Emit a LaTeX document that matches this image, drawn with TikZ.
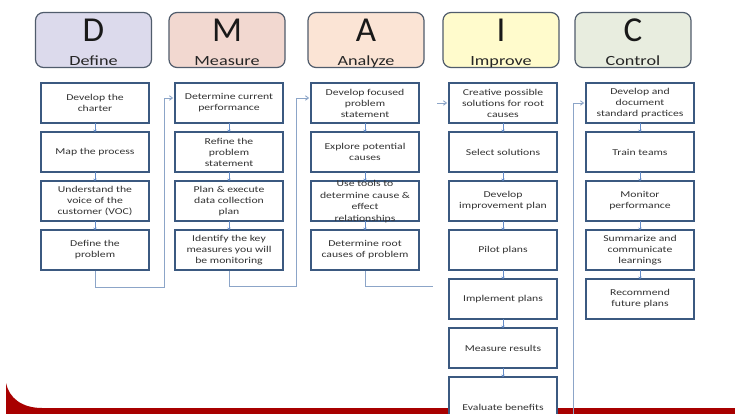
\documentclass[tikz,border=0pt]{standalone}
\usepackage{fontspec}
\setmainfont{Carlito}
\newfontfamily\widefont[FakeStretch=1.3]{Carlito}
\usetikzlibrary{arrows.meta,shadows}
\definecolor{boxblue}{RGB}{59,89,128}
\definecolor{hdrborder}{RGB}{80,92,108}
\definecolor{arrowblue}{RGB}{100,140,200}
\definecolor{linkblue}{RGB}{140,165,200}
\definecolor{barred}{RGB}{168,0,0}
\definecolor{cD}{RGB}{220,218,236}
\definecolor{cM}{RGB}{242,216,208}
\definecolor{cA}{RGB}{251,228,213}
\definecolor{cI}{RGB}{255,251,204}
\definecolor{cC}{RGB}{232,237,223}
\tikzset{
  hdr/.style={draw=hdrborder, line width=1.2pt, rounded corners=8pt,
    minimum width=116pt, minimum height=55pt, inner sep=0pt},
  letter/.style={anchor=base, font=\fontsize{35}{35}\selectfont, text=black!90, inner sep=0pt},
  word/.style={anchor=base, font=\widefont\fontsize{14}{14}\selectfont, text=black!85, inner sep=0pt},
  stepbox/.style={draw=boxblue, line width=1.8pt, fill=white,
    minimum width=108pt, minimum height=40pt, inner sep=1pt, align=center,
    font=\widefont\fontsize{9}{11}\selectfont, text=black!80,
    drop shadow={shadow xshift=1pt, shadow yshift=-1pt, fill=boxblue, opacity=1}},
  boxtext/.style={align=center, inner sep=0pt, font=\widefont\fontsize{9}{11.5}\selectfont, text=black!80},
  nextarrow/.style={draw=arrowblue, line width=0.6pt, -{Stealth[length=2.5pt,width=3.5pt]}},
  link/.style={draw=linkblue, line width=0.9pt},
  linkarrow/.style={link, -{Straight Barb[length=3pt,width=4.5pt]}, shorten >=1pt}
}
\begin{document}
\begin{tikzpicture}[x=1pt,y=-1pt]
\useasboundingbox (0,0) rectangle (735,414);
\clip (0,0) rectangle (735,414);
\fill[white] (0,0) rectangle (735,414);
% red bar
\fill[barred] (6,383) .. controls (9,398) and (22,408) .. (42,408) -- (735,408) -- (735,414) -- (6,414) -- cycle;

% headers
\node[hdr, fill=cD] (hD) at (93.5,40) {};
\node[hdr, fill=cM] (hM) at (227,40) {};
\node[hdr, fill=cA] (hA) at (366,40) {};
\node[hdr, fill=cI] (hI) at (501,40) {};
\node[hdr, fill=cC] (hC) at (633,40) {};
\node[letter] (lD) at (93.5,42) {D};
\node[letter] (lM) at (227,42) {M};
\node[letter] (lA) at (366,42) {A};
\node[letter] (lI) at (501,42) {I};
\node[letter] (lC) at (633,42) {C};
\node[word] (wD) at (93.5,66) {Define};
\node[word] (wM) at (227,66) {Measure};
\node[word] (wA) at (366,66) {Analyze};
\node[word] (wI) at (501,66) {Improve};
\node[word] (wC) at (633,66) {Control};

% connectors between columns
\coordinate (dmb) at (164,287);
\coordinate (dmt) at (164,98);
\coordinate (mab) at (296,286);
\coordinate (mat) at (296,98);
\coordinate (aib) at (433,286);
\coordinate (ait) at (437,103);
\coordinate (icb) at (573,420);
\coordinate (ict) at (573,103);

% D column
\node[stepbox] (d1) at (95,103) {Develop the\\charter};
\node[stepbox] (d2) at (95,152) {Map the process};
\node[stepbox] (d3) at (95,201) {Understand the\\voice of the\\customer (VOC)};
\node[stepbox] (d4) at (95,250) {Define the\\problem};
% M column
\node[stepbox] (m1) at (229,103) {Determine current\\performance};
\node[stepbox] (m2) at (229,152) {Refine the\\problem\\statement};
\node[stepbox] (m3) at (229,201) {Plan \& execute\\data collection\\plan};
\node[stepbox] (m4) at (229,250) {Identify the key\\measures you will\\be monitoring};
% A column
\node[stepbox] (a1) at (365,103) {Develop focused\\problem\\statement};
\node[stepbox] (a2) at (365,152) {Explore potential\\causes};
\node[stepbox] (a3) at (365,201) {};
\node[boxtext] (a3t) at (365,201.5) {Use tools to\\determine cause \&\\effect\\relationships};
\node[stepbox] (a4) at (365,250) {Determine root\\causes of problem};
% I column
\node[stepbox] (i1) at (503,103) {Creative possible\\solutions for root\\causes};
\node[stepbox] (i2) at (503,152) {Select solutions};
\node[stepbox] (i3) at (503,201) {Develop\\improvement plan};
\node[stepbox] (i4) at (503,250) {Pilot plans};
\node[stepbox] (i5) at (503,299) {Implement plans};
\node[stepbox] (i6) at (503,348) {Measure results};
\node[stepbox, minimum height=60pt] (i7) at (503,407) {Evaluate benefits};
% C column
\node[stepbox] (c1) at (640,103) {Develop and\\document\\standard practices};
\node[stepbox] (c2) at (640,152) {Train teams};
\node[stepbox] (c3) at (640,201) {Monitor\\performance};
\node[stepbox] (c4) at (640,250) {Summarize and\\communicate\\learnings};
\node[stepbox] (c5) at (640,299) {Recommend\\future plans};

% small arrows inside columns
\foreach \a/\b in {d1/d2,d2/d3,d3/d4,m1/m2,m2/m3,m3/m4,a1/a2,a2/a3,a3/a4,
  i1/i2,i2/i3,i3/i4,i4/i5,i5/i6,i6/i7,c1/c2,c2/c3,c3/c4,c4/c5}
  \draw[nextarrow] ([yshift=1pt]\a.south) -- ([yshift=-1pt]\b.north);

% column links
\draw[linkarrow] (d4.south) |- (dmb) -- (dmt) -- (m1.west |- dmt);
\draw[linkarrow] (m4.south) |- (mab) -- (mat) -- (a1.west |- mat);
\draw[link] (a4.south) |- (aib);
\draw[linkarrow] (ait) -- (i1.west |- ait);
\draw[linkarrow] (icb) -- (ict) -- (c1.west |- ict);
\end{tikzpicture}
\end{document}
